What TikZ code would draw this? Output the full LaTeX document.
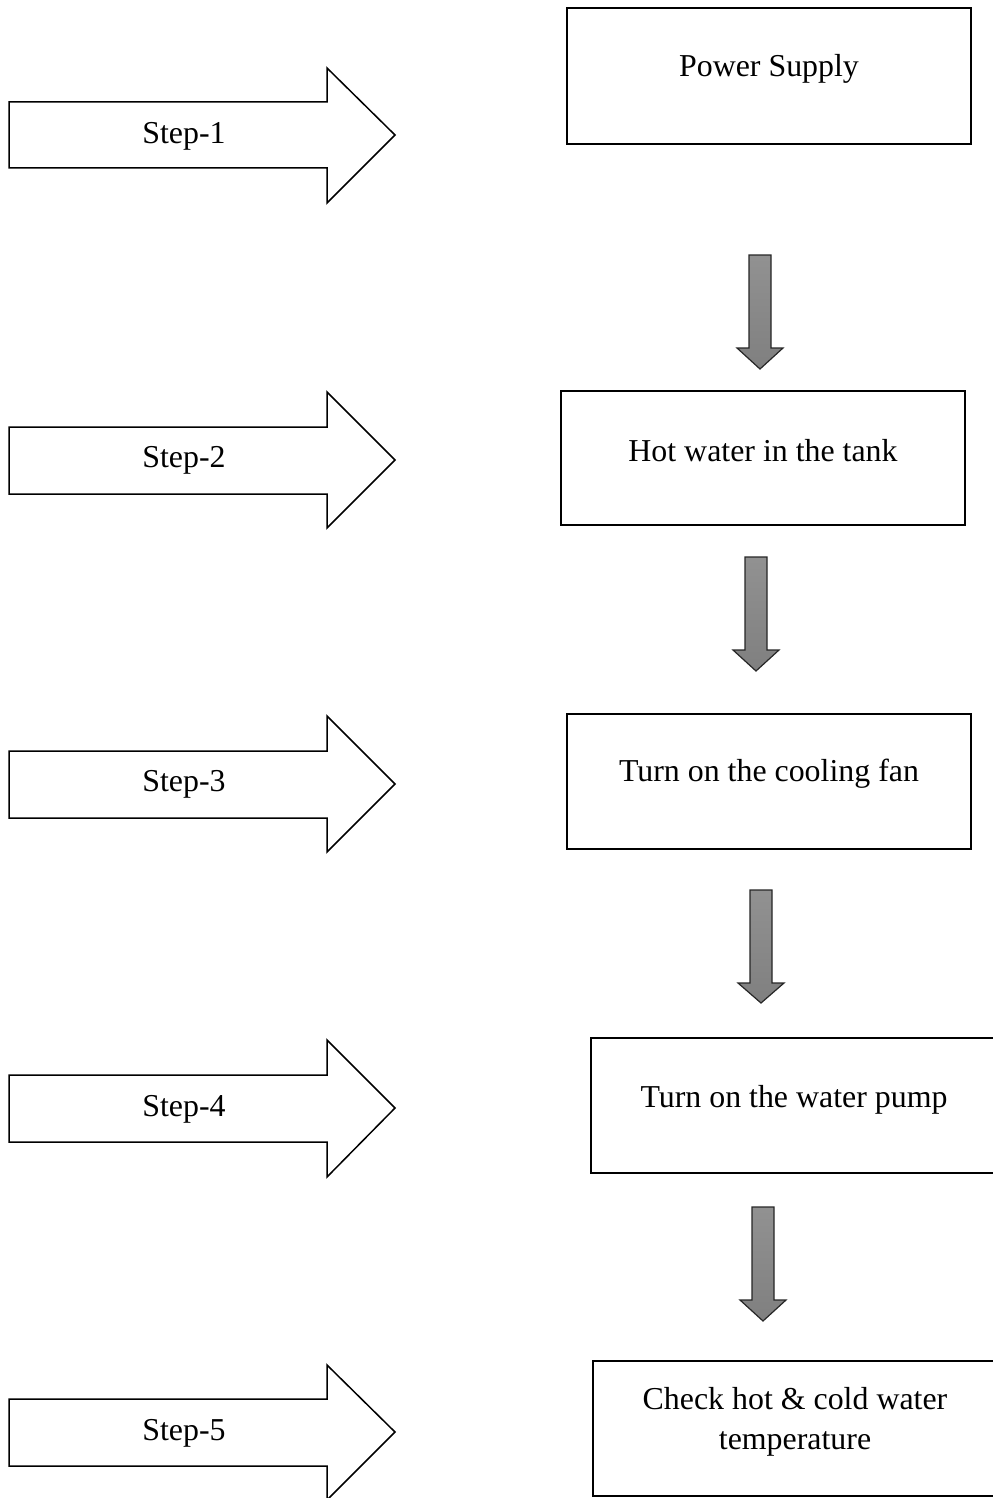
\documentclass[tikz,border=0pt]{standalone}
\usepackage{fontspec}
\setmainfont{Liberation Serif}
\usetikzlibrary{arrows,shapes}
\begin{document}
\begin{tikzpicture}[x=1bp,y=-1bp,line join=miter,
  txt/.style={font=\fontsize{32}{40}\selectfont,align=center,inner sep=0pt},
  stepshape/.style={draw=black,line width=1.5bp,fill=white},
  boxshape/.style={draw=black,line width=2.5bp},
  downshape/.style={draw=black!85,line width=1.2bp,top color=black!43,bottom color=black!50}]
\useasboundingbox (0,0) rectangle (992,1498);
%%
  % Node: Step-1
  \draw [stepshape] (9,102) -- (327,102) -- (327,68) -- (395,135) -- (327,203) -- (327,168) -- (9,168) -- cycle;
  \node [txt] (s1) at (184,136) {Step-1};
  % Node: Step-2
  \draw [stepshape] (9,427) -- (327,427) -- (327,392) -- (395,460) -- (327,528) -- (327,494) -- (9,494) -- cycle;
  \node [txt] (s2) at (184,460) {Step-2};
  % Node: Step-3
  \draw [stepshape] (9,751) -- (327,751) -- (327,716) -- (395,784) -- (327,852) -- (327,818) -- (9,818) -- cycle;
  \node [txt] (s3) at (184,784) {Step-3};
  % Node: Step-4
  \draw [stepshape] (9,1075) -- (327,1075) -- (327,1040) -- (395,1108) -- (327,1177) -- (327,1142) -- (9,1142) -- cycle;
  \node [txt] (s4) at (184,1109) {Step-4};
  % Node: Step-5
  \draw [stepshape] (9,1399) -- (327,1399) -- (327,1365) -- (395,1432) -- (327,1500) -- (327,1466) -- (9,1466) -- cycle;
  \node [txt] (s5) at (184,1433) {Step-5};
%
  % Node: Power Supply
  \draw [boxshape] (567,8) rectangle (971,144);
  \node [txt] (supply) at (769,69) {Power Supply};
  % Node: Hot water in the tank
  \draw [boxshape] (561,391) rectangle (965,525);
  \node [txt] (tank) at (763,451) {Hot water in the tank};
  % Node: Turn on the cooling fan
  \draw [boxshape] (567,714) rectangle (971,849);
  \node [txt] (fan) at (769,774) {Turn on the cooling fan};
  % Node: Turn on the water pump
  \draw [boxshape] (591,1038) rectangle (1000,1173);
  \node [txt] (pump) at (794,1100) {Turn on the water pump};
  % Node: Check hot & cold water temperature
  \draw [boxshape] (593,1361) rectangle (1000,1496);
  \node [txt] (check) at (795,1422) {Check hot \& cold water\\temperature};
%
  % Edge: Power Supply -> Hot water in the tank
  \draw [downshape] (749,255) -- (771,255) -- (771,348) -- (783,348) -- (760,369) -- (737,348) -- (749,348) -- cycle;
  % Edge: Hot water in the tank -> Turn on the cooling fan
  \draw [downshape] (745,557) -- (767,557) -- (767,650) -- (779,650) -- (756,671) -- (733,650) -- (745,650) -- cycle;
  % Edge: Turn on the cooling fan -> Turn on the water pump
  \draw [downshape] (750,890) -- (772,890) -- (772,983) -- (784,983) -- (761,1003) -- (738,983) -- (750,983) -- cycle;
  % Edge: Turn on the water pump -> Check hot & cold water temperature
  \draw [downshape] (752,1207) -- (774,1207) -- (774,1300) -- (786,1300) -- (763,1321) -- (740,1300) -- (752,1300) -- cycle;
%
\end{tikzpicture}
\end{document}
